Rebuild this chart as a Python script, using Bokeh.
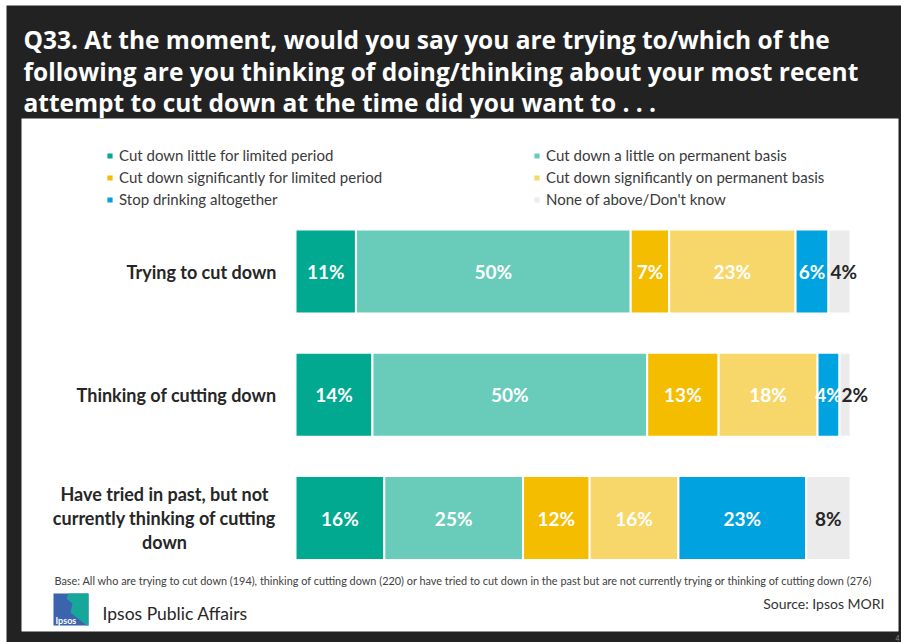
from bokeh.plotting import figure
from bokeh.models import Range1d, Legend, LegendItem, ColumnDataSource
from bokeh.core.properties import value
from bokeh.embed import file_html
from bokeh.resources import INLINE

# ---------------- data ----------------
categories = [
    "Trying to cut down",
    "Thinking of cutting down",
    "Have tried in past, but not\ncurrently thinking of cutting\ndown",
]
series = [
    "Cut down little for limited period",
    "Cut down a little on permanent basis",
    "Cut down significantly for limited period",
    "Cut down significantly on permanent basis",
    "Stop drinking altogether",
    "None of above/Don't know",
]
little_limited = [11, 14, 16]
little_permanent = [50, 50, 25]
sig_limited = [7, 13, 12]
sig_permanent = [23, 18, 16]
stop_drinking = [6, 4, 23]
none_dk = [4, 2, 8]
values = [little_limited, little_permanent, sig_limited, sig_permanent, stop_drinking, none_dk]

colors = ["#00A98F", "#69CCBA", "#F5BD00", "#F8D76A", "#00A3E0", "#EBEBEB"]
label_colors = ["white", "white", "white", "white", "white", "#262626"]

title_lines = [
    "Q33. At the moment, would you say you are trying to/which of the",
    "following are you thinking of doing/thinking about your most recent",
    "attempt to cut down at the time did you want to . . .",
]
base_note = ("Base:  All who  are trying to cut down (194), thinking of cutting down (220) or have tried to cut "
             "down in the past but are not currently trying or thinking of cutting down (276)")
source_note = "Source: Ipsos MORI"
brand = "Ipsos Public Affairs"
page_number = "4"

# ---------------- layout ----------------
FONT_NAME = "Lato"
FONT = value(FONT_NAME)
TITLE_FONT = value("Open Sans")
BG = "#222222"
DARK = "#262626"
W, H = 901, 642
X0 = 295                     # pixel of 0 %
PXPER = (850 - 295) / 100.0  # pixels per percent
ROW0 = 271                   # pixel of first row centre
ROWSTEP = 123.25             # pixels between rows


def gx(x):
    return (x - X0) / PXPER


def gy(y):
    return (y - ROW0) / ROWSTEP


p = figure(width=W, height=H,
           x_range=Range1d(-X0 / PXPER, (W - X0) / PXPER),
           y_range=Range1d((H - ROW0) / ROWSTEP, -ROW0 / ROWSTEP),
           output_backend="svg", toolbar_location=None, min_border=0,
           x_axis_location=None, y_axis_location=None,
           background_fill_color="white", border_fill_color="white", outline_line_color=None)
p.xgrid.visible = False
p.ygrid.visible = False

# dark slide background and white panel
p.quad(left=[gx(6)], right=[gx(W + 2)], top=[gy(5)], bottom=[gy(H + 2)],
       fill_color=BG, line_color=None)
p.quad(left=[gx(21)], right=[gx(898)], top=[gy(118)], bottom=[gy(631)],
       fill_color="white", line_color=None)

# title
for i, line in enumerate(title_lines):
    p.text(x=[gx(23)], y=[gy(39 + 31.5 * i)], text=[line], text_color="white",
           text_font=TITLE_FONT, text_font_style="bold", text_font_size=value("24.5px"),
           text_baseline="middle", text_align="left")

# ---------------- bars ----------------
rows = list(range(len(categories)))
totals = [sum(v[r] for v in values) for r in rows]
cum = [0.0] * len(rows)
legend_items = []
for k, name in enumerate(series):
    vals = values[k]
    left = [cum[r] for r in rows]
    right = [cum[r] + vals[r] * 100.0 / totals[r] for r in rows]
    cum = right
    src = ColumnDataSource(dict(y=rows, left=left, right=right, v=vals,
                                lab=[f"{v}%" for v in vals],
                                mid=[(a + b) / 2 for a, b in zip(left, right)]))
    r = p.hbar(y="y", left="left", right="right", height=0.68, source=src,
               fill_color=colors[k], line_color="white", line_width=2)
    legend_items.append(LegendItem(label=name, renderers=[r]))

    # data labels
    narrow = [i for i in rows if k == len(series) - 1 and vals[i] < 5]
    wide = [i for i in rows if i not in narrow]
    if wide:
        p.text(x=[src.data["mid"][i] for i in wide], y=[rows[i] for i in wide],
               text=[src.data["lab"][i] for i in wide], text_color=label_colors[k],
               text_font=FONT, text_font_style="bold", text_font_size=value("19px"),
               text_align="center", text_baseline="middle")
    if narrow:
        p.text(x=[left[i] for i in narrow], y=[rows[i] for i in narrow],
               text=[src.data["lab"][i] for i in narrow], text_color=label_colors[k],
               text_font=FONT, text_font_style="bold", text_font_size=value("19px"),
               text_align="left", text_baseline="middle", x_offset=2)

# category labels
for r_i, cat in enumerate(categories):
    multi = "\n" in cat
    p.text(x=[gx(164) if multi else gx(276)], y=[rows[r_i]], text=[cat],
           text_color=DARK, text_font=FONT, text_font_style="bold",
           text_font_size=value("18px"), text_align="center" if multi else "right",
           text_baseline="middle", text_line_height=1.07)

# legend
legend = Legend(items=legend_items, orientation="horizontal", ncols=2,
                location=(106 - 1, H - 210),
                glyph_width=9, glyph_height=9, label_standoff=5, label_width=413,
                label_height=22, spacing=0, padding=0, margin=0,
                label_text_font=FONT_NAME, label_text_font_size="15px",
                label_text_color="#3A3A3A", border_line_color=None,
                background_fill_alpha=0)
p.add_layout(legend, "center")

# footer
p.text(x=[gx(54)], y=[gy(580)], text=[base_note], text_color="#404040", text_font=FONT,
       text_font_size=value("10.9px"), text_align="left", text_baseline="middle")
p.text(x=[gx(884)], y=[gy(603)], text=[source_note], text_color="#333333", text_font=FONT,
       text_font_size=value("14px"), text_align="right", text_baseline="middle")
p.text(x=[gx(102)], y=[gy(613)], text=[brand], text_color=DARK, text_font=FONT,
       text_font_size=value("17.5px"), text_align="left", text_baseline="middle")
p.text(x=[gx(899)], y=[gy(637)], text=[page_number], text_color="#8A8A8A", text_font=FONT,
       text_font_size=value("7px"), text_align="right", text_baseline="middle")

# logo
p.quad(left=[gx(53)], right=[gx(88)], top=[gy(593)], bottom=[gy(625)],
       fill_color="#3B63AE", line_color=None)
p.patch(x=[gx(68), gx(88), gx(88), gx(86), gx(70), gx(72), gx(66)],
        y=[gy(593), gy(593), gy(625), gy(625), gy(612), gy(603), gy(598)],
        fill_color="#17A79A", line_color=None)
p.text(x=[gx(55)], y=[gy(620)], text=["Ipsos"], text_color="white", text_font=FONT,
       text_font_style="bold", text_font_size=value("9px"), text_align="left",
       text_baseline="middle")

open("out.html", "w").write(file_html(p, INLINE))
